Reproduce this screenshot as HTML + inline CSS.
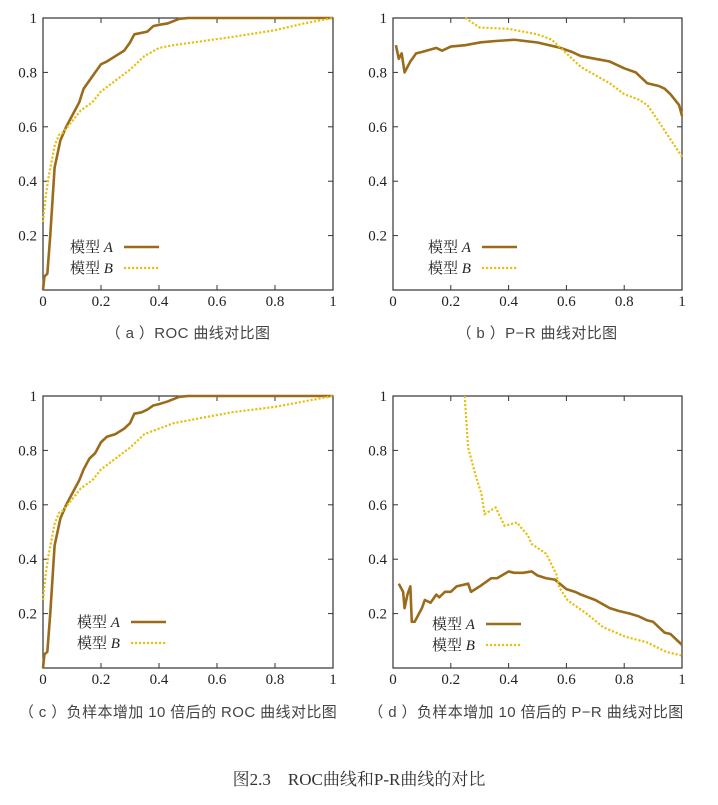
<!DOCTYPE html>
<html><head><meta charset="utf-8">
<style>
body{margin:0;background:#fff;width:718px;height:805px;overflow:hidden}
svg{display:block}
.tk{font-family:"Liberation Serif",serif;font-size:15px;fill:#222}
.cap{font-family:"Liberation Sans","Noto Sans CJK SC",sans-serif;font-size:15px;fill:#444;letter-spacing:0.4px}
.lg{font-family:"Liberation Serif","Noto Serif CJK SC",serif;font-size:15px;fill:#222}
</style></head><body>
<svg id="fig" width="718" height="805">
<text class="cap" x="188" y="338" text-anchor="middle">（ a ）ROC 曲线对比图</text>
<text class="cap" x="537" y="338" text-anchor="middle">（ b ）P−R 曲线对比图</text>
<text class="cap" x="178" y="717" text-anchor="middle">（ c ）负样本增加 10 倍后的 ROC 曲线对比图</text>
<text class="cap" x="526" y="717" text-anchor="middle">（ d ）负样本增加 10 倍后的 P−R 曲线对比图</text>
<text x="359" y="785" text-anchor="middle" style="font-family:'Liberation Serif','Noto Serif CJK SC',serif;font-size:17px;fill:#333">图2.3　ROC曲线和P-R曲线的对比</text>
</svg>
<script>
// (a) ROC
const rocAx=[0,0.005,0.015,0.025,0.04,0.06,0.08,0.1,0.125,0.14,0.16,0.18,0.2,0.22,0.25,0.28,0.3,0.315,0.36,0.38,0.4,0.43,0.47,0.5,1];
const rocAy=[0,0.05,0.06,0.2,0.45,0.55,0.6,0.64,0.69,0.74,0.77,0.8,0.83,0.84,0.86,0.88,0.91,0.94,0.95,0.97,0.975,0.98,0.997,1,1];
const rocBx=[0,0.01,0.02,0.04,0.055,0.07,0.1,0.13,0.17,0.2,0.25,0.3,0.35,0.4,0.45,0.55,0.65,0.8,0.9,0.95,1];
const rocBy=[0.25,0.35,0.42,0.53,0.57,0.58,0.62,0.66,0.69,0.73,0.77,0.81,0.86,0.89,0.9,0.915,0.93,0.955,0.98,0.99,1];
// (b) P-R
const prAx=[0.01,0.02,0.03,0.04,0.06,0.08,0.1,0.15,0.17,0.2,0.25,0.3,0.35,0.42,0.5,0.58,0.62,0.65,0.7,0.75,0.8,0.84,0.88,0.92,0.94,0.96,0.99,1];
const prAy=[0.9,0.85,0.87,0.8,0.84,0.87,0.875,0.89,0.88,0.895,0.9,0.91,0.915,0.92,0.91,0.89,0.875,0.86,0.85,0.84,0.815,0.8,0.76,0.75,0.74,0.72,0.68,0.64];
const prBx=[0.25,0.3,0.4,0.5,0.55,0.6,0.65,0.7,0.75,0.8,0.85,0.88,0.9,0.95,1];
const prBy=[1,0.965,0.96,0.94,0.92,0.87,0.82,0.79,0.76,0.72,0.7,0.68,0.65,0.57,0.49];
// (c) ROC 10x negatives
const roc2Ax=[0,0.005,0.015,0.025,0.04,0.06,0.08,0.1,0.125,0.14,0.16,0.18,0.2,0.22,0.25,0.28,0.3,0.315,0.34,0.36,0.38,0.4,0.43,0.47,0.5,1];
const roc2Ay=[0,0.05,0.06,0.2,0.45,0.55,0.6,0.64,0.69,0.73,0.77,0.79,0.83,0.85,0.86,0.88,0.9,0.935,0.94,0.95,0.965,0.97,0.98,0.997,1,1];
const roc2Bx=[0,0.01,0.02,0.04,0.055,0.07,0.1,0.13,0.17,0.2,0.25,0.3,0.35,0.4,0.45,0.55,0.65,0.8,0.9,0.95,1];
const roc2By=[0.25,0.35,0.42,0.53,0.57,0.58,0.62,0.66,0.69,0.73,0.77,0.81,0.86,0.88,0.9,0.92,0.94,0.96,0.98,0.99,1];
// (d) P-R 10x negatives
const pr2Ax=[0.02,0.035,0.04,0.05,0.06,0.065,0.075,0.1,0.11,0.13,0.15,0.16,0.18,0.2,0.22,0.26,0.27,0.3,0.34,0.36,0.4,0.42,0.45,0.48,0.5,0.53,0.56,0.6,0.63,0.65,0.7,0.75,0.78,0.82,0.85,0.88,0.9,0.94,0.96,1];
const pr2Ay=[0.31,0.28,0.22,0.27,0.3,0.17,0.17,0.22,0.25,0.24,0.27,0.26,0.28,0.28,0.3,0.31,0.28,0.3,0.33,0.33,0.355,0.35,0.35,0.355,0.34,0.33,0.325,0.29,0.28,0.27,0.25,0.22,0.21,0.2,0.19,0.175,0.17,0.13,0.125,0.085];
const pr2Bx=[0.248,0.26,0.288,0.306,0.317,0.355,0.386,0.43,0.44,0.467,0.48,0.53,0.565,0.575,0.605,0.67,0.727,0.807,0.877,0.946,1];
const pr2By=[1,0.81,0.7,0.64,0.566,0.59,0.523,0.535,0.52,0.487,0.456,0.42,0.346,0.297,0.248,0.2,0.15,0.114,0.095,0.059,0.046];
const tickLabels=["0","0.2","0.4","0.6","0.8","1"];
const tickVals=[0,0.2,0.4,0.6,0.8,1];

const NS="http://www.w3.org/2000/svg";
const fig=document.getElementById('fig');
function mk(tag,attrs,parent){const e=document.createElementNS(NS,tag);for(const k in attrs)e.setAttribute(k,attrs[k]);(parent||fig).appendChild(e);return e;}
function chart(id,x0,x1,y0,y1,ax,ay,bx,by,lx,ly){
  const g=mk('g',{});
  
  
  const sx=v=>x0+v*(x1-x0), sy=v=>y1-v*(y1-y0);
  const fr=mk('rect',{x:x0,y:y0,width:x1-x0,height:y1-y0,fill:'none',stroke:'#333','stroke-width':1.2},g);
  
  
  tickVals.forEach((v,i)=>{
    const X=sx(v),Y=sy(v);
    mk('line',{x1:X,y1:y1,x2:X,y2:y1-5,stroke:'#333'},g);
    mk('line',{x1:X,y1:y0,x2:X,y2:y0+5,stroke:'#333'},g);
    mk('line',{x1:x0,y1:Y,x2:x0+5,y2:Y,stroke:'#333'},g);
    mk('line',{x1:x1,y1:Y,x2:x1-5,y2:Y,stroke:'#333'},g);
    const tx=mk('text',{class:'tk',x:X,y:y1+16,'text-anchor':'middle'},g);tx.textContent=tickLabels[i];
    
    
    if(v>0){const ty=mk('text',{class:'tk',x:x0-6,y:Y+5,'text-anchor':'end'},g);ty.textContent=tickLabels[i];
    
    }
  });
  const pa=mk('polyline',{points:ax.map((v,i)=>sx(v)+','+sy(ay[i])).join(' '),fill:'none',stroke:'#9b6b1c','stroke-width':2.6,'stroke-linejoin':'round'},g);
  
  
  const pb=mk('polyline',{points:bx.map((v,i)=>sx(v)+','+sy(by[i])).join(' '),fill:'none',stroke:'#e6c012','stroke-width':2.2,'stroke-dasharray':'2.2 1.8'},g);
  
  
  const la=mk('text',{class:'lg',x:lx,y:ly+5},g);la.innerHTML='模型 <tspan font-style="italic">A</tspan>';
  
  
  mk('line',{x1:lx+54,y1:ly,x2:lx+89,y2:ly,stroke:'#9b6b1c','stroke-width':2.6},g);
  const lb=mk('text',{class:'lg',x:lx,y:ly+26},g);lb.innerHTML='模型 <tspan font-style="italic">B</tspan>';
  
  
  mk('line',{x1:lx+54,y1:ly+21,x2:lx+89,y2:ly+21,stroke:'#e6c012','stroke-width':2.2,'stroke-dasharray':'2.2 1.8'},g);
}
chart('roc-chart-a',43,333,18,290,rocAx,rocAy,rocBx,rocBy,70,247);
chart('pr-chart-b',393,682,18,290,prAx,prAy,prBx,prBy,428,247);
chart('roc-chart-c',43,333,396,668,roc2Ax,roc2Ay,roc2Bx,roc2By,77,622);
chart('pr-chart-d',393,682,396,668,pr2Ax,pr2Ay,pr2Bx,pr2By,432,624);
</script>
</body></html>
